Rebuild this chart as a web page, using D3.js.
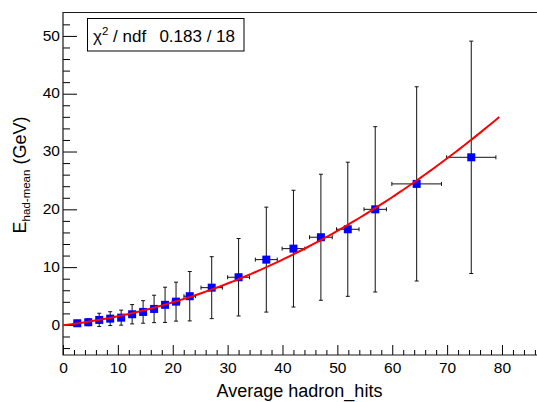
<!DOCTYPE html>
<meta charset="utf-8">
<style>
body { margin: 0; background: #fff; }
text { font-family: 'Liberation Sans', Arial, sans-serif; fill: #000; }
</style>
<body>
<script src="https://d3js.org/d3.v7.min.js"></script>
<script>

	// measured points (x, y and their errors)
	var hits   = [2.6, 4.6, 6.6, 8.6, 10.6, 12.6, 14.6, 16.6, 18.6, 20.6, 23.1, 27.1, 32.0, 37.05, 42.0, 47.0, 51.9, 56.9, 64.45, 74.4];
	var energy = [0.29, 0.47, 0.87, 1.09, 1.26, 1.85, 2.25, 2.77, 3.48, 4.03, 4.97, 6.45, 8.25, 11.3, 13.2, 15.17, 16.55, 20.0, 24.4, 29.0];
	var hitsErr   = [0.5, 0.5, 0.5, 0.5, 0.5, 0.6, 0.6, 0.6, 0.6, 0.7, 1.06, 1.95, 2.0, 2.0, 2.07, 2.07, 2.05, 2.04, 4.52, 4.49];
	var energyErr = [0.5, 0.6, 1.15, 1.2, 1.3, 1.67, 1.95, 2.37, 3.05, 3.37, 4.27, 5.36, 6.7, 9.08, 10.1, 10.9, 11.6, 14.3, 16.8, 20.1];

	// pol2 fit parameters and range
	var p0 = -0.05, p1 = 0.112, p2 = 0.00429;
	var fitRange = [0, 79.5];

	var xTicks = [0, 10, 20, 30, 40, 50, 60, 70, 80];
	var yTicks = [0, 10, 20, 30, 40, 50];
	var statLabel = "/ ndf";
	var statValue = "0.183 / 18";

	var width = 537, height = 402;
	var frameL = 63, frameR = 538.2, frameT = 12.5, frameB = 355;

	var svg = d3.select("body").append("svg")
		.attr("width", width)
		.attr("height", height);

	var x = d3.scaleLinear().domain([0, 86.6]).range([frameL, frameR]);
	var y = d3.scaleLinear().domain([-5.2, 54.05]).range([frameB, frameT]);

	function minorTicks(lo, hi, step, majors) {
		var out = [];
		for (var v = Math.ceil(lo / step) * step; v <= hi + 1e-9; v += step) {
			v = Math.round(v * 100) / 100;
			if (majors.indexOf(v) < 0) out.push(v);
		}
		return out;
	}

	// y axis (ticks inside the frame)
	var yAxis = svg.append("g").attr("transform", "translate(" + frameL + ",0)");
	yAxis.call(d3.axisLeft(y).tickValues(yTicks).tickSize(-14).tickPadding(3));
	yAxis.append("g").call(d3.axisLeft(y).tickValues(minorTicks(-5.2, 53.9, 2, yTicks)).tickSize(-7).tickFormat(""));

	// x axis
	var xAxis = svg.append("g").attr("transform", "translate(0," + frameB + ")");
	xAxis.call(d3.axisBottom(x).tickValues(xTicks).tickSize(-10).tickPadding(6.5));
	xAxis.append("g").call(d3.axisBottom(x).tickValues(minorTicks(0, 86.6, 2, xTicks)).tickSize(-5).tickFormat(""));

	svg.selectAll(".domain").remove();
	svg.selectAll(".tick line").style("stroke", "#000").style("stroke-width", 1);
	svg.selectAll(".tick text").style("font-size", "15.5px");
	yAxis.selectAll(".tick text").attr("dy", "0.27em");

	// frame
	svg.append("path")
		.attr("d", "M" + frameR + "," + frameT + "H" + frameL + "V" + frameB + "H" + frameR)
		.style("fill", "none")
		.style("stroke", "#1a1a1a")
		.style("stroke-width", 1.2);

	// axis titles
	svg.append("text")
		.attr("x", (frameL + 536) / 2)
		.attr("y", 397)
		.attr("text-anchor", "middle")
		.style("font-size", "18px")
		.text("Average hadron_hits");

	var yTitle = svg.append("text")
		.attr("transform", "translate(26,175) rotate(-90)")
		.attr("text-anchor", "middle")
		.style("font-size", "18px");
	yTitle.append("tspan").text("E");
	yTitle.append("tspan").attr("dy", 4).style("font-size", "11.5px").text("had-mean");
	yTitle.append("tspan").attr("dy", -4).text(" (GeV)");

	// error bars
	var pts = hits.map(function(d, i) {
		return {x: d, y: energy[i], ex: hitsErr[i], ey: energyErr[i]};
	});

	var bars = svg.append("g").style("stroke", "#111").style("stroke-width", 1);
	pts.forEach(function(d) {
		var cx = x(d.x), cy = y(d.y);
		var y1 = y(d.y + d.ey), y2 = y(d.y - d.ey);
		var x1 = x(d.x - d.ex), x2 = x(d.x + d.ex);
		bars.append("line").attr("x1", cx).attr("x2", cx).attr("y1", y1).attr("y2", y2);
		bars.append("line").attr("x1", cx - 2).attr("x2", cx + 2).attr("y1", y1).attr("y2", y1);
		bars.append("line").attr("x1", cx - 2).attr("x2", cx + 2).attr("y1", y2).attr("y2", y2);
		bars.append("line").attr("x1", x1).attr("x2", x2).attr("y1", cy).attr("y2", cy);
		bars.append("line").attr("x1", x1).attr("x2", x1).attr("y1", cy - 2).attr("y2", cy + 2);
		bars.append("line").attr("x1", x2).attr("x2", x2).attr("y1", cy - 2).attr("y2", cy + 2);
	});

	// markers
	svg.append("g")
		.selectAll("rect")
		.data(pts)
		.enter().append("rect")
			.attr("x", function(d) { return x(d.x) - 4; })
			.attr("y", function(d) { return y(d.y) - 4; })
			.attr("width", 8)
			.attr("height", 8)
			.style("fill", "#0000ff");

	// fit curve
	var fx = d3.range(0, 101).map(function(i) { return fitRange[0] + (fitRange[1] - fitRange[0]) * i / 100; });
	svg.append("path")
		.datum(fx)
		.attr("d", d3.line()
			.x(function(d) { return x(d); })
			.y(function(d) { return y(p0 + p1 * d + p2 * d * d); }))
		.style("fill", "none")
		.style("stroke", "#ff0000")
		.style("stroke-width", 2);

	// stats box
	svg.append("rect")
		.attr("x", 87.5)
		.attr("y", 18.5)
		.attr("width", 156.5)
		.attr("height", 32.5)
		.style("fill", "#fff")
		.style("stroke", "#000")
		.style("stroke-width", 1);

	var stat = svg.append("text")
		.attr("x", 93)
		.attr("y", 42.3)
		.style("font-size", "17px");
	stat.append("tspan").text("\u03C7");
	stat.append("tspan").attr("dy", -7).style("font-size", "11.5px").text("2");
	stat.append("tspan").attr("dy", 7).text(" " + statLabel);

	svg.append("text")
		.attr("x", 235)
		.attr("y", 42.3)
		.attr("text-anchor", "end")
		.style("font-size", "17px")
		.text(statValue);

</script>
</body>
</html>
